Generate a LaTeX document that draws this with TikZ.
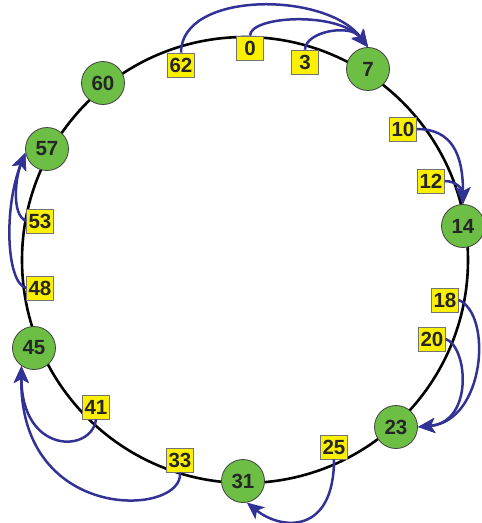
\documentclass[tikz,border=0pt]{standalone}
\usepackage{fontspec}
\setmainfont{Liberation Sans}
\usetikzlibrary{arrows.meta}
\definecolor{peergreen}{RGB}{108,190,69}
\definecolor{keyyellow}{RGB}{250,240,0}
\definecolor{fingerblue}{RGB}{50,50,150}

\begin{document}
\begin{tikzpicture}[x=1pt, y=1pt, >=Stealth,
  peer/.style={circle, draw=black!75, line width=0.8pt, fill=peergreen,
        minimum size=43pt, inner sep=0pt, text=black!85,
        font=\fontsize{20.5}{22}\selectfont\bfseries},
  keybox/.style={draw=black!55, line width=0.6pt, fill=keyyellow,
        minimum width=27pt, minimum height=24pt, inner sep=1pt, text=black!85,
        font=\fontsize{20.5}{22}\selectfont\bfseries},
  lookup/.style={-{Stealth[length=17pt, width=15pt, inset=4pt]}, line width=2.5pt, fingerblue}]
  \useasboundingbox (0,0) rectangle (482,-523);
  \draw[line width=2.6pt] (245,-260) circle[radius=223];

  % peers on the ring
  \node[peer] (n7)  at (368,-69)  {7};
  \node[peer] (n14) at (463,-226) {14};
  \node[peer] (n23) at (396,-427) {23};
  \node[peer] (n31) at (243,-481) {31};
  \node[peer] (n45) at (34,-348)  {45};
  \node[peer] (n57) at (47,-149)  {57};
  \node[peer] (n60) at (103,-83)  {60};

  % keys
  \node[keybox] (k62) at (181,-65)  {62};
  \node[keybox] (k0)  at (250,-48)  {0};
  \node[keybox] (k3)  at (305,-62)  {3};
  \node[keybox] (k10) at (403,-129) {10};
  \node[keybox] (k12) at (431,-181) {12};
  \node[keybox] (k18) at (445,-300) {18};
  \node[keybox] (k20) at (432,-339) {20};
  \node[keybox] (k25) at (334,-447) {25};
  \node[keybox] (k33) at (180,-460) {33};
  \node[keybox] (k41) at (96,-407)  {41};
  \node[keybox] (k48) at (40,-288)  {48};
  \node[keybox] (k53) at (40,-221)  {53};

  % key -> successor
  \draw[lookup] (k62.north) .. controls +(0,62) and +(-42,56) .. (n7.north);
  \draw[lookup] (k0.north)  .. controls +(0,20) and +(-30,36) .. (n7.north);
  \draw[lookup] (k3.north)  .. controls +(0,18) and +(-18,24) .. (n7.north);
  \draw[lookup] (k10.east)  .. controls +(35,0) and +(0,50) .. (n14.north);
  \draw[lookup] (k12.east)  .. controls +(12,0) and +(0,14) .. (n14.north);
  \draw[lookup] (k18.east)  .. controls +(34,-15) and +(67,6) .. (n23.east);
  \draw[lookup] (k20.east)  .. controls +(22,-8) and +(56,5) .. (n23.east);
  \draw[lookup] (k25.south) .. controls +(0,-75) and +(35,-28) .. (n31.-80);
  \draw[lookup] (k33.south) .. controls +(5,-44) and +(-2,-159) .. (n45.-125);
  \draw[lookup] (k41.south) .. controls +(-4,-34) and +(0,-89) .. (n45.-125);
  \draw[lookup] (k48.west)  .. controls +(-20,5) and +(-22,-55) .. (n57.190);
  \draw[lookup] (k53.west)  .. controls +(-15,6) and +(-10,-25) .. (n57.190);
\end{tikzpicture}
\end{document}
